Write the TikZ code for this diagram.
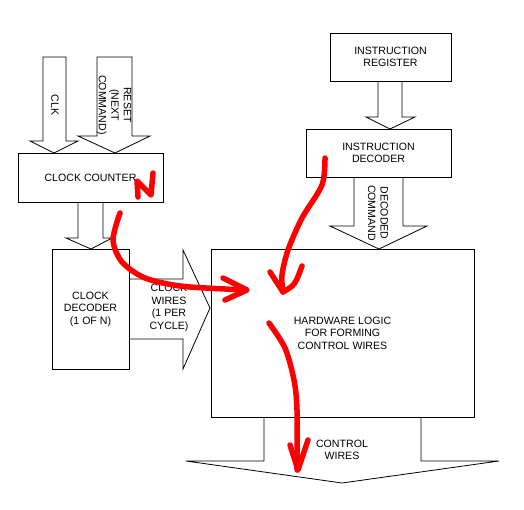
\documentclass[tikz,border=0pt]{standalone}
\usepackage{fontspec}
\setmainfont{Liberation Sans}
\begin{document}
\begin{tikzpicture}[x=1pt,y=-1pt,
  box/.style={draw=black,line width=0.8pt,fill=white,align=center,inner sep=0pt,
    font=\fontsize{10.6}{12.6}\selectfont},
  blk/.style={draw=black,line width=0.8pt,line join=miter},
  lbl/.style={align=center,inner sep=0pt,font=\fontsize{10.6}{12.6}\selectfont},
  pen/.style={draw=red,line width=5.5pt,line cap=round,line join=round}]
\useasboundingbox (0,0) rectangle (524,509);
% block arrows
\draw[blk] (43,57) -- (66,57) -- (66,141) -- (78,141) -- (54,153) -- (30,141) -- (43,141) -- cycle;
\draw[blk] (97,57) -- (132,57) -- (132,136) -- (150,136) -- (115,153) -- (78,136) -- (97,136) -- cycle;
% boxes
\node[box,minimum width=145,minimum height=49] (cc) at (90.5,177.5) {CLOCK COUNTER};
\node[box,minimum width=77,minimum height=120] (cd) at (90.5,309) {CLOCK\\DECODER\\(1 OF N)};
\node[box,minimum width=263,minimum height=168] (hw) at (342.5,333) {HARDWARE LOGIC\\FOR FORMING\\CONTROL WIRES};
\node[box,minimum width=121,minimum height=48] (ir) at (390.5,57) {INSTRUCTION\\REGISTER};
\node[box,minimum width=145,minimum height=48] (id) at (378.5,153) {INSTRUCTION\\DECODER};
\draw[blk] (78,202) -- (78,238) -- (66,238) -- (91,249) -- (112,238) -- (103,238) -- (103,202);
\draw[blk] (129,279) -- (183,279) -- (183,250) -- (210,308) -- (183,369) -- (183,339) -- (129,339);
\draw[blk] (378,81) -- (378,117) -- (366,117) -- (390,129) -- (415,117) -- (402,117) -- (402,81);
\draw[blk] (354,177) -- (354,226) -- (330,226) -- (379,249) -- (427,226) -- (403,226) -- (403,177);
\draw[blk] (264,417) -- (264,461) -- (186,461) -- (342,483) -- (499,461) -- (421,461) -- (421,417);
% labels
\node[lbl,rotate=-90] (clk) at (55,105) {CLK};
\node[lbl,rotate=-90] (rst) at (114,105) {RESET\\(NEXT\\COMMAND)};
\node[lbl,rotate=-90] (dec) at (378,213) {DECODED\\COMMAND};
\node[lbl] (cw) at (169,308) {CLOCK\\WIRES\\(1 PER\\CYCLE)};
\node[lbl] (ctl) at (342,450) {CONTROL\\WIRES};
% red annotations
\draw[pen] plot[smooth] coordinates {(138,197) (137,181)} -- (151,195) -- (153,173);
\draw[pen] plot[smooth] coordinates {(120,213) (113,240) (122,262) (145,278) (180,286) (225,289) (246,290)};
\draw[pen] (223,278) .. controls (235,284) .. (247,290) .. controls (236,295) .. (225,300);
\draw[pen] plot[smooth] coordinates {(325,158) (322,185) (302,218) (288,250) (282,275) (283,292)};
\draw[pen] (270,272) .. controls (277,282) .. (283,292) .. controls (295,285) .. (302,266);
\draw[pen] plot[smooth] coordinates {(269,323) (285,348) (294,380) (297,410) (297,470)};
\draw[pen] (290,445) .. controls (294,458) .. (298,470) .. controls (303,455) .. (308,440);
\end{tikzpicture}
\end{document}
